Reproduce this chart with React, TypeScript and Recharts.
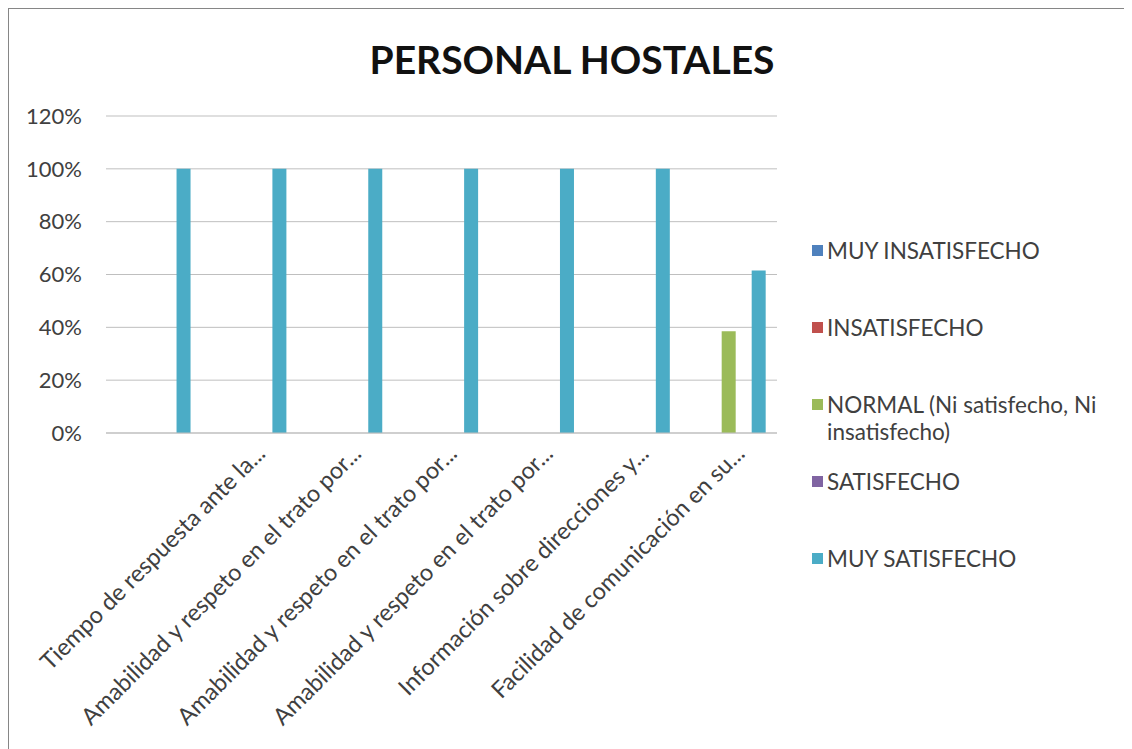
import React from "react"
import { BarChart, Bar, XAxis, YAxis, CartesianGrid, Legend } from "recharts"

const categories = [
  "",
  "Tiempo de respuesta ante la...",
  "Amabilidad y respeto en el trato por...",
  "Amabilidad y respeto en el trato por...",
  "Amabilidad y respeto en el trato por...",
  "Información sobre direcciones y...",
  "Facilidad de comunicación en su...",
]

const muyInsatisfecho = [0, 0, 0, 0, 0, 0, 0]
const insatisfecho = [0, 0, 0, 0, 0, 0, 0]
const normal = [0, 0, 0, 0, 0, 0, 0.385]
const satisfecho = [0, 0, 0, 0, 0, 0, 0]
const muySatisfecho = [1, 1, 1, 1, 1, 1, 0.615]

const yTicks = [0, 0.2, 0.4, 0.6, 0.8, 1, 1.2]

const series = [
  { key: "muyInsatisfecho", name: "MUY INSATISFECHO", color: "#4F81BD", values: muyInsatisfecho },
  { key: "insatisfecho", name: "INSATISFECHO", color: "#C0504D", values: insatisfecho },
  { key: "normal", name: "NORMAL (Ni satisfecho, Ni insatisfecho)", color: "#9BBB59", values: normal },
  { key: "satisfecho", name: "SATISFECHO", color: "#8064A2", values: satisfecho },
  { key: "muySatisfecho", name: "MUY SATISFECHO", color: "#4BACC6", values: muySatisfecho },
]

const data = categories.map((cat, i) => {
  const row: Record<string, string | number> = { cat }
  series.forEach((s) => (row[s.key] = s.values[i]))
  return row
})

const FONT = "Lato, 'Open Sans', sans-serif"
const TEXT = "#404040"

// gaps between legend blocks, the reference spaces them unevenly
const legendGaps = [0, 50, 50, 23, 50]

function CatTick({ x, y, payload }: any) {
  const tx = x + 17
  const ty = y + 22
  return (
    <text
      x={tx}
      y={ty}
      textAnchor="end"
      transform={`rotate(-45 ${tx} ${ty})`}
      fontSize={23.5}
      fontFamily={FONT}
      fill={TEXT}
    >
      {payload.value}
    </text>
  )
}

// drawn from the series list so the order stays as in the original
function LegendBox() {
  return (
    <div style={{ fontFamily: FONT, fontSize: 22.5, color: TEXT, lineHeight: "27px" }}>
      {series.map((s, i) => (
        <div key={s.key} style={{ display: "flex", alignItems: "flex-start", marginTop: legendGaps[i] }}>
          <span
            style={{
              display: "inline-block",
              width: 11,
              height: 11,
              background: s.color,
              marginTop: 8,
              marginRight: 4,
              flex: "none",
            }}
          />
          <span style={{ width: 300 }}>{s.name}</span>
        </div>
      ))}
    </div>
  )
}

export default function App() {
  return (
    <div
      style={{
        position: "relative",
        width: 1119,
        height: 760,
        border: "1px solid #868686",
        background: "#fff",
      }}
    >
      <div
        style={{
          position: "absolute",
          left: 0,
          width: 1126,
          top: 27,
          textAlign: "center",
          fontFamily: FONT,
          fontWeight: 700,
          fontSize: 39,
          color: "#111",
        }}
      >
        PERSONAL HOSTALES
      </div>
      <BarChart
        width={1119}
        height={740}
        data={data}
        margin={{ top: 107, right: 351, left: 0, bottom: 0 }}
        barCategoryGap="11%"
        barGap={1}
      >
        <CartesianGrid vertical={false} stroke="#bfbfbf" />
        <XAxis
          dataKey="cat"
          height={316}
          interval={0}
          tickLine={false}
          tickSize={0}
          tickMargin={0}
          axisLine={{ stroke: "#bfbfbf" }}
          tick={<CatTick />}
        />
        <YAxis
          width={97}
          domain={[0, 1.2]}
          ticks={yTicks}
          axisLine={false}
          tickLine={false}
          tickSize={0}
          tickMargin={24}
          tickFormatter={(v: number) => `${Math.round(v * 100)}%`}
          tick={{ fontSize: 22, fontFamily: FONT, fill: TEXT }}
        />
        <Legend
          layout="vertical"
          align="center"
          verticalAlign="middle"
          width={316}
          wrapperStyle={{ left: 803, top: 228 }}
          content={<LegendBox />}
        />
        {series.map((s) => (
          <Bar key={s.key} dataKey={s.key} name={s.name} fill={s.color} isAnimationActive={false} />
        ))}
      </BarChart>
    </div>
  )
}
